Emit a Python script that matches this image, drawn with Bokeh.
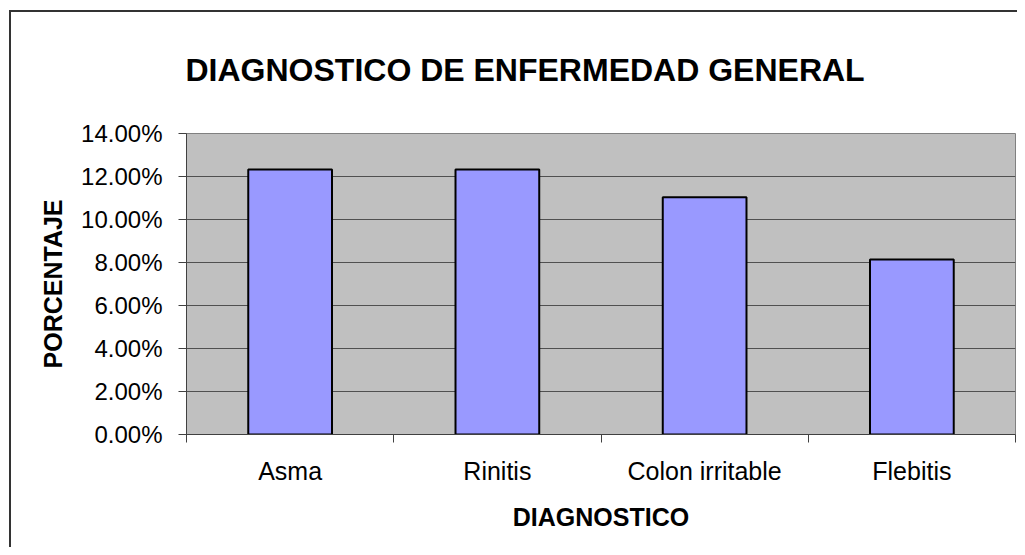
import numpy as np
from bokeh.plotting import figure
from bokeh.models import Range1d, FixedTicker, NumeralTickFormatter, ColumnDataSource
from bokeh.embed import file_html
from bokeh.resources import INLINE

# ---- data ----
categories = ["Asma", "Rinitis", "Colon irritable", "Flebitis"]
percentages = [0.1232, 0.1232, 0.1103, 0.0814]
y_ticks = [0.0, 0.02, 0.04, 0.06, 0.08, 0.10, 0.12, 0.14]
title_text = "DIAGNOSTICO DE ENFERMEDAD GENERAL"
x_title = "DIAGNOSTICO"
y_title = "PORCENTAJE"

FONT = "Liberation Sans"
W, H = 1017, 547

xpos = np.arange(len(categories)) + 0.5
src = ColumnDataSource(dict(x=xpos, top=percentages, cat=categories))

p = figure(width=W, height=H, output_backend="svg", toolbar_location=None,
           x_range=Range1d(0, len(categories)), y_range=Range1d(0, 0.14),
           min_border_left=186, min_border_right=2, min_border_top=133,
           min_border_bottom=H - 434)

# outer chart border drawn by the host element's background (canvas border area transparent)
p.border_fill_alpha = 0
p.styles = {
    "background-color": "#ffffff",
    "background-image": "linear-gradient(#333333, #333333), linear-gradient(#333333, #333333)",
    "background-size": "2px 100%, 100% 2px",
    "background-position": "9px 10px, 9px 10px",
    "background-repeat": "no-repeat",
}
p.background_fill_color = "#C0C0C0"
p.outline_line_color = "#808080"
p.outline_line_width = 1

p.vbar(x="x", top="top", bottom=0, width=0.404, source=src,
       fill_color="#9999FF", line_color="#000000", line_width=2)

# title
p.title.text = title_text
p.title.text_font = FONT
p.title.text_font_size = "32px"
p.title.text_font_style = "bold"
p.title.text_color = "#000000"
p.title.align = "left"
p.title.offset = -1
p.title.standoff = 92

# y axis
yax = p.yaxis[0]
yax.ticker = FixedTicker(ticks=y_ticks, minor_ticks=[])
yax.formatter = NumeralTickFormatter(format="0.00%")
yax.major_label_text_font = FONT
yax.major_label_text_font_size = "24px"
yax.major_label_text_color = "#000000"
yax.major_tick_in = 0
yax.major_tick_out = 8
yax.major_tick_line_color = "#404040"
yax.axis_line_color = "#404040"
yax.major_label_standoff = 16
yax.axis_label = y_title
yax.axis_label_text_font = FONT
yax.axis_label_text_font_size = "25px"
yax.axis_label_text_font_style = "bold"
yax.axis_label_text_color = "#000000"
yax.axis_label_standoff = 11

# x axis
xax = p.xaxis[0]
xax.ticker = FixedTicker(ticks=list(xpos), minor_ticks=list(range(len(categories) + 1)))
xax.major_label_overrides = {float(x): c for x, c in zip(xpos, categories)}
xax.major_label_text_font = FONT
xax.major_label_text_font_size = "25px"
xax.major_label_text_color = "#000000"
xax.major_tick_in = 0
xax.major_tick_out = 0
xax.minor_tick_in = 0
xax.minor_tick_out = 8
xax.minor_tick_line_color = "#404040"
xax.axis_line_color = "#404040"
xax.major_label_standoff = 14
xax.axis_label = x_title
xax.axis_label_text_font = FONT
xax.axis_label_text_font_size = "25px"
xax.axis_label_text_font_style = "bold"
xax.axis_label_text_color = "#000000"
xax.axis_label_standoff = 15

# grid
p.xgrid.grid_line_color = None
p.ygrid.ticker = FixedTicker(ticks=y_ticks)
p.ygrid.grid_line_color = "#505050"
p.ygrid.grid_line_width = 1

open("out.html", "w").write(file_html(p, INLINE))
